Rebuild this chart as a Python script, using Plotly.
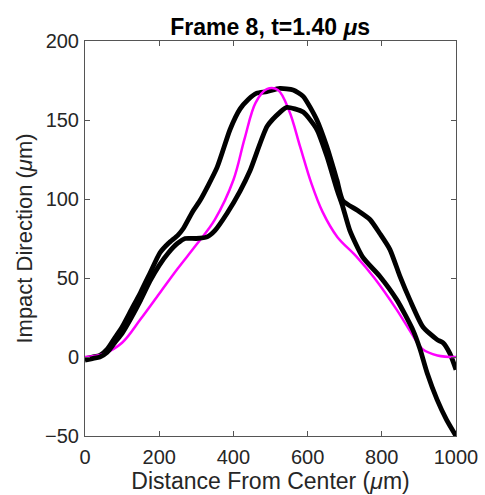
import plotly.graph_objects as go

# Magenta (model) curve
model_x = [0, 50, 100, 150, 200, 250, 300, 350, 400, 430, 460, 490, 520, 550, 580, 610, 640, 680, 730, 780, 840, 880, 910, 950, 1000]
model_y = [0, 2, 9, 24, 40, 56, 71, 87, 112, 138, 161, 169.5, 169, 156, 133, 110, 92, 76, 64, 50, 30, 15, 5, 1, 0]

# Black curve A (upper-left, outer-right branch)
a_x = [0, 20, 40, 60, 80, 100, 125, 150, 175, 202, 225, 250, 264, 290, 310, 356, 391, 418, 440, 463, 490, 525, 561, 588, 625, 652, 679, 695,
       733, 768, 795, 822, 849, 876, 911, 949, 965, 984, 1000]
a_y = [-1, 0, 1, 5, 12, 19, 30, 41, 53, 66, 72, 77, 81, 92, 99, 120, 144, 157, 163, 167, 168, 170, 169, 165, 150, 133, 112, 99,
       93, 87, 78, 68, 51, 36, 19, 11, 9, 2, -8]

# Black curve B (lower-left with plateau, inner-right branch)
b_x = [0, 20, 40, 60, 80, 100, 125, 150, 175, 200, 225, 250, 270, 300, 329, 350, 383, 418, 445, 491, 526, 544, 588, 625, 652, 679, 695,
       714, 749, 795, 841, 884, 903, 922, 949, 975, 1000]
b_y = [-2, -1, 0, 3, 9, 15, 25, 36, 48, 58, 66, 72, 75, 75, 76, 80, 91, 105, 118, 146, 155, 158, 155, 144, 127, 106, 95,
       80, 63, 51, 36, 17, 5, -10, -27, -40, -50]

x_ticks = [0, 200, 400, 600, 800, 1000]
y_ticks = [-50, 0, 50, 100, 150, 200]

FONT = "Liberation Sans, Arial, Helvetica, sans-serif"

fig = go.Figure()
fig.add_trace(go.Scatter(x=a_x, y=a_y, mode="lines", line=dict(color="black", width=4.8, shape="spline", smoothing=0.6), showlegend=False))
fig.add_trace(go.Scatter(x=model_x, y=model_y, mode="lines", line=dict(color="#FF00FF", width=2.5, shape="spline", smoothing=1.0), showlegend=False))
fig.add_trace(go.Scatter(x=b_x, y=b_y, mode="lines", line=dict(color="black", width=4.8, shape="spline", smoothing=0.6), showlegend=False))

axis_common = dict(showline=True, linecolor="#555555", linewidth=1, mirror="ticks", ticks="inside", ticklen=5,
                   tickcolor="#555555", showgrid=False, zeroline=False, automargin=False,
                   tickfont=dict(family=FONT, size=20, color="#262626"))

fig.update_layout(
    width=485, height=495,
    margin=dict(l=85, r=29, t=41, b=59),
    paper_bgcolor="white", plot_bgcolor="white",
    title=dict(text="<b>Frame 8, t=1.40 <i>μ</i>s</b>", x=0.557, xanchor="center", y=0.945, yanchor="middle",
               font=dict(family=FONT, size=23, color="black")),
    xaxis=dict(range=[0, 1000], tickvals=x_ticks,
               title=dict(text="Distance From Center (<i>μ</i>m)", font=dict(family=FONT, size=23, color="#262626"), standoff=5),
               ticklabelstandoff=3, **axis_common),
    yaxis=dict(range=[-50, 200], tickvals=y_ticks,
               title=dict(text="Impact Direction (<i>μ</i>m)", font=dict(family=FONT, size=22, color="#262626"), standoff=6),
               ticklabelstandoff=1, **axis_common),
)

fig.write_html("out.html")
